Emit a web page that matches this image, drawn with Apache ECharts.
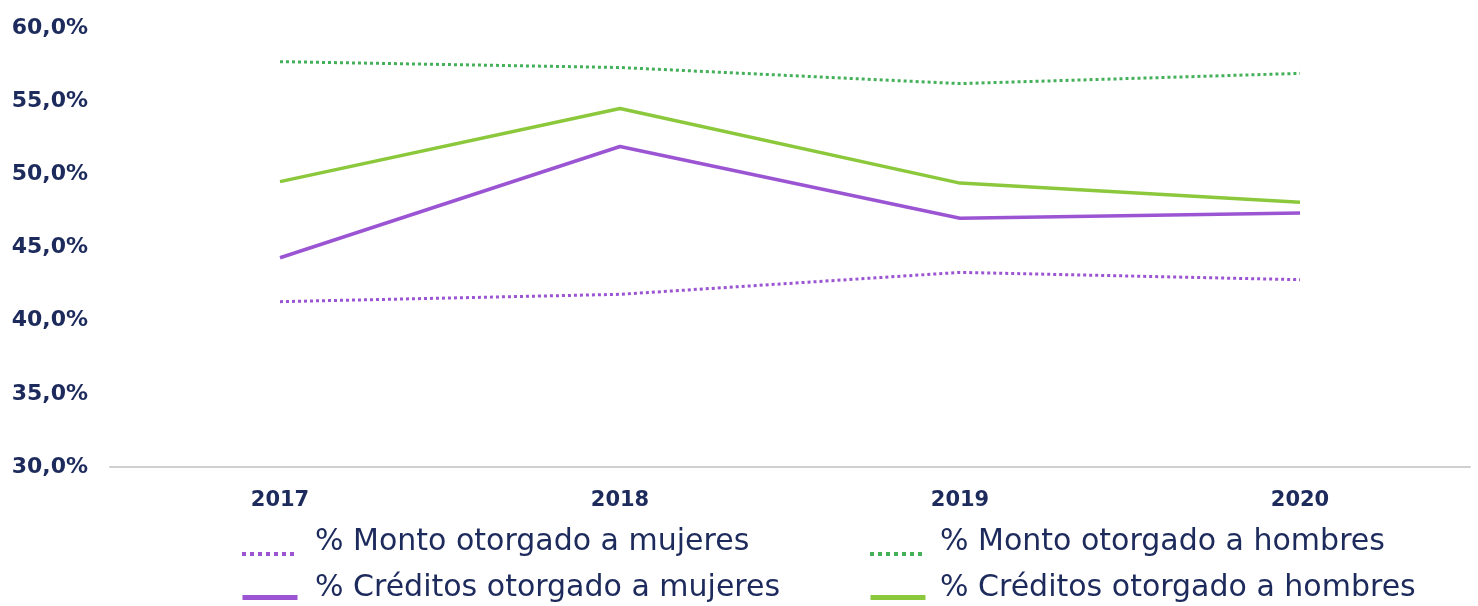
<!DOCTYPE html>
<html>
<head>
<meta charset="utf-8">
<script src="https://cdn.jsdelivr.net/npm/echarts@6/dist/echarts.min.js"></script>
<style>
  html, body { margin: 0; padding: 0; background: #fff; }
  #chart { width: 1478px; height: 606px; }
</style>
</head>
<body>
<div id="chart"></div>
<script>
var years = ['2017', '2018', '2019', '2020'];
var montoMujeres = [41.3, 41.8, 43.3, 42.8];
var montoHombres = [57.7, 57.3, 56.2, 56.9];
var creditosMujeres = [44.3, 51.9, 47.0, 47.35];
var creditosHombres = [49.5, 54.5, 49.4, 48.1];

var navy = '#1d2a5c';
var purple = '#9b55d3';
var green = '#8cc83c';
var greenDot = '#45b05a';

// legend icon only (line sample), sits a bit lower than its text
function legendIcon(name, left, top, lineWidth) {
    return {
        left: left,
        top: top,
        padding: 0,
        itemWidth: 55,
        itemHeight: 4,
        itemStyle: { opacity: 0 },
        lineStyle: { width: lineWidth },
        textStyle: { fontSize: 1 },
        formatter: function () { return ''; },
        data: [name]
    };
}

// legend text only
function legendLabel(name, left, top) {
    return {
        left: left,
        top: top,
        padding: 0,
        itemWidth: 0,
        itemHeight: 0,
        itemStyle: { opacity: 0 },
        lineStyle: { opacity: 0, width: 0 },
        textStyle: {
            color: navy,
            fontSize: 30,
            fontFamily: 'DejaVu Sans'
        },
        data: [name]
    };
}

var chart = echarts.init(document.getElementById('chart'));
var option = {
    backgroundColor: '#ffffff',
    animation: false,
    textStyle: { fontFamily: 'DejaVu Sans' },
    grid: {
        left: 110,
        right: 8,
        top: 28,
        bottom: 139
    },
    legend: [
        legendIcon('% Monto otorgado a mujeres', 240, 552, 4),
        legendIcon('% Créditos otorgado a mujeres', 240, 595, 5),
        legendIcon('% Monto otorgado a hombres', 868, 552, 4),
        legendIcon('% Créditos otorgado a hombres', 868, 595, 5),
        legendLabel('% Monto otorgado a mujeres', 310, 527),
        legendLabel('% Créditos otorgado a mujeres', 310, 573),
        legendLabel('% Monto otorgado a hombres', 935, 527),
        legendLabel('% Créditos otorgado a hombres', 935, 573)
    ],
    xAxis: {
        type: 'category',
        data: years,
        boundaryGap: true,
        axisLine: { lineStyle: { color: '#d0d0d0', width: 2 } },
        axisTick: { show: false },
        axisLabel: {
            color: navy,
            fontSize: 21,
            fontWeight: 'bold',
            margin: 23
        }
    },
    yAxis: {
        type: 'value',
        min: 30,
        max: 60,
        interval: 5,
        axisLine: { show: false },
        axisTick: { show: false },
        splitLine: { show: false },
        axisLabel: {
            color: navy,
            fontSize: 22,
            fontWeight: 'bold',
            margin: 22,
            formatter: function (v) {
                return v.toFixed(1).replace('.', ',') + '%';
            }
        }
    },
    series: [{
        name: '% Monto otorgado a mujeres',
        type: 'line',
        symbol: 'none',
        data: montoMujeres,
        itemStyle: { color: purple },
        lineStyle: { color: purple, width: 3, type: 'dotted' }
    }, {
        name: '% Créditos otorgado a mujeres',
        type: 'line',
        symbol: 'none',
        data: creditosMujeres,
        itemStyle: { color: purple },
        lineStyle: { color: purple, width: 3.5 }
    }, {
        name: '% Monto otorgado a hombres',
        type: 'line',
        symbol: 'none',
        data: montoHombres,
        itemStyle: { color: greenDot },
        lineStyle: { color: greenDot, width: 3, type: 'dotted' }
    }, {
        name: '% Créditos otorgado a hombres',
        type: 'line',
        symbol: 'none',
        data: creditosHombres,
        itemStyle: { color: green },
        lineStyle: { color: green, width: 3.5 }
    }]
};
chart.setOption(option);
</script>
</body>
</html>
